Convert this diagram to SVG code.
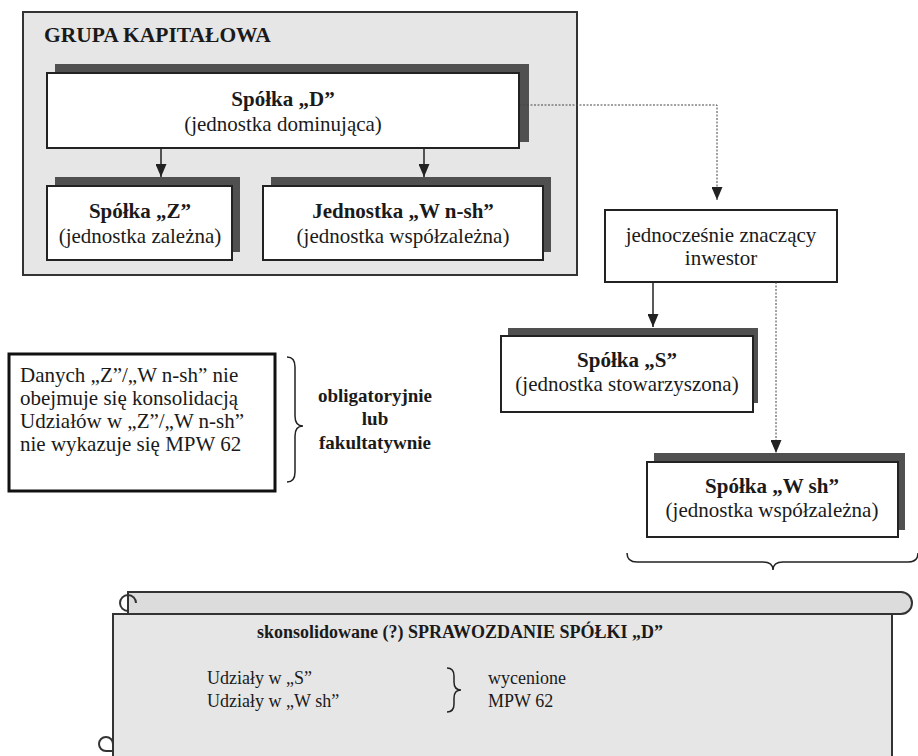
<svg xmlns="http://www.w3.org/2000/svg" width="918" height="756" viewBox="0 0 918 756">
<defs>
<marker id="ah" markerUnits="userSpaceOnUse" markerWidth="14" markerHeight="11" viewBox="0 0 14 11" refX="13" refY="5.5" orient="auto">
<path d="M0,0 L13,5.5 L0,11 Z" fill="#222"/>
</marker>
<style>
.t{font-family:"Liberation Serif","Times New Roman",serif;fill:#1a1a1a}
.b{font-weight:bold}
.c{text-anchor:middle}
.f21{font-size:21px}
.f19{font-size:19px}
.f18{font-size:18px}
.box{fill:#fff;stroke:#222;stroke-width:2}
.sh{fill:#505050}
.sol{stroke:#222;stroke-width:1.5;fill:none}
.dot{stroke:#444;stroke-width:1;stroke-dasharray:2 1.5;fill:none}
.br{stroke:#222;stroke-width:1.5;fill:none}
</style>
</defs>
<rect width="918" height="756" fill="#fff"/>

<g id="grupa">
<rect x="23" y="12" width="554" height="263" fill="#e6e6e6" stroke="#333" stroke-width="2"/>
<text class="t b" x="44" y="42" font-size="21.5">GRUPA KAPITAŁOWA</text>
</g>

<g id="node-d">
<rect class="sh" x="55" y="64" width="474" height="78"/>
<rect class="box" x="47" y="73" width="472" height="75"/>
<text class="t b c f21" x="283" y="106">Spółka „D”</text>
<text class="t c f21" x="283" y="131">(jednostka dominująca)</text>
</g>

<g id="node-z">
<rect class="sh" x="55" y="177" width="185" height="75"/>
<rect class="box" x="47" y="186" width="185" height="74"/>
<text class="t b c f21" x="140" y="218">Spółka „Z”</text>
<text class="t c f21" x="140" y="243">(jednostka zależna)</text>
</g>

<g id="node-wnsh">
<rect class="sh" x="271" y="177" width="280" height="75"/>
<rect class="box" x="263" y="186" width="280" height="74"/>
<text class="t b c f21" x="403" y="218">Jednostka „W n-sh”</text>
<text class="t c f21" x="403" y="243">(jednostka współzależna)</text>
</g>

<g id="node-inwestor">
<rect class="box" x="605" y="210" width="232" height="72"/>
<text class="t c f21" x="721" y="242">jednocześnie znaczący</text>
<text class="t c f21" x="721" y="265">inwestor</text>
</g>

<g id="node-s">
<rect class="sh" x="508" y="328" width="250" height="75"/>
<rect class="box" x="501" y="336" width="252" height="76"/>
<text class="t b c f21" x="627" y="367">Spółka „S”</text>
<text class="t c f21" x="627" y="391">(jednostka stowarzyszona)</text>
</g>

<g id="node-wsh">
<rect class="sh" x="654" y="453" width="251" height="77"/>
<rect class="box" x="647" y="462" width="251" height="75"/>
<text class="t b c f21" x="772" y="493">Spółka „W sh”</text>
<text class="t c f21" x="772" y="517">(jednostka współzależna)</text>
</g>

<g id="node-uwaga">
<rect x="9" y="354" width="266" height="137" fill="#fff" stroke="#111" stroke-width="3"/>
<text class="t f21" x="20" y="382">Danych „Z”/„W n-sh” nie</text>
<text class="t f21" x="20" y="405">obejmuje się konsolidacją</text>
<text class="t f21" x="20" y="428">Udziałów w „Z”/„W n-sh”</text>
<text class="t f21" x="20" y="451">nie wykazuje się MPW 62</text>
<path class="br" d="M287,357 Q295,357 295,367 L295,416 Q295,426 303,426 Q295,426 295,436 L295,472 Q295,482 287,482"/>
<text class="t b c f19" x="375" y="402">obligatoryjnie</text>
<text class="t b c f19" x="375" y="425">lub</text>
<text class="t b c f19" x="375" y="449">fakultatywnie</text>
</g>

<g id="brace-wsh">
<path class="br" d="M627,553 Q627,562 637,562 L763,562 Q773,562 773,570 Q773,562 783,562 L908,562 Q918,562 918,553"/>
</g>

<g id="node-sprawozdanie">
<rect x="113" y="614" width="779" height="150" fill="#e6e6e6" stroke="#333" stroke-width="2"/>
<path d="M128,592 L901,592 A11,11 0 0 1 901,614 L128,614 Z" fill="#dcdcdc" stroke="#333" stroke-width="2"/>
<path d="M136,603 A8,8 0 1 0 128,611 M128,594 L128,614" fill="none" stroke="#333" stroke-width="2"/>
<path d="M113,744 A7,7 0 1 0 106,751 L113,751" fill="none" stroke="#333" stroke-width="2"/>
<text class="t b c f18" x="460" y="638">skonsolidowane (?) SPRAWOZDANIE SPÓŁKI „D”</text>
<text class="t f18" x="207" y="684">Udziały w „S”</text>
<text class="t f18" x="207" y="707">Udziały w „W sh”</text>
<path class="br" d="M447,668 Q454,668 454,676 L454,682 Q454,690 461,690 Q454,690 454,698 L454,704 Q454,712 447,712"/>
<text class="t f18" x="488" y="684">wycenione</text>
<text class="t f18" x="488" y="707">MPW 62</text>
</g>

<g id="connectors">
<line class="sol" x1="161" y1="148" x2="161" y2="177" marker-end="url(#ah)"/>
<line class="sol" x1="424" y1="148" x2="424" y2="177" marker-end="url(#ah)"/>
<polyline class="dot" points="520,105 717,105 717,200" marker-end="url(#ah)"/>
<line class="sol" x1="653" y1="282" x2="653" y2="327" marker-end="url(#ah)"/>
<line class="dot" x1="776" y1="282" x2="776" y2="453" marker-end="url(#ah)"/>
</g>
</svg>
